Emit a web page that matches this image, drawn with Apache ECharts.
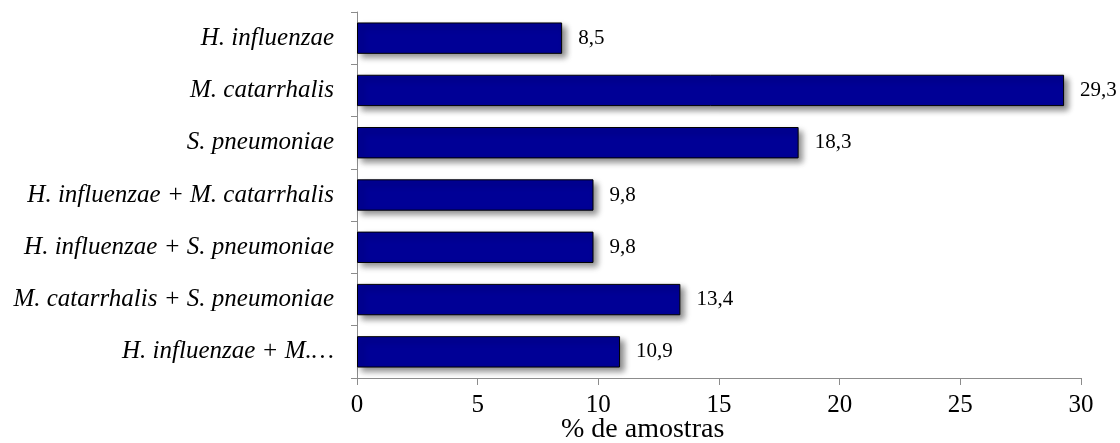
<!DOCTYPE html>
<html>
<head>
<meta charset="utf-8">
<script src="https://cdn.jsdelivr.net/npm/echarts@6/dist/echarts.min.js"></script>
<style>
  html, body { margin: 0; padding: 0; background: #fff; }
  #chart { width: 1120px; height: 443px; }
</style>
</head>
<body>
<div id="chart"></div>
<script>
// horizontal bars, % de amostras per bacteria / combination

const categories = [
  'H. influenzae',
  'M. catarrhalis',
  'S. pneumoniae',
  'H. influenzae + M. catarrhalis',
  'H. influenzae + S. pneumoniae',
  'M. catarrhalis + S. pneumoniae',
  'H. influenzae + M.…',
];
const values = [8.5, 29.3, 18.3, 9.8, 9.8, 13.4, 10.9];
const xTicks = { min: 0, max: 30, interval: 5 };

const FONT = 'Liberation Serif';
const AXIS_GREY = '#8c8c8c';

const c = echarts.init(document.getElementById('chart'), null, { renderer: 'canvas' });

c.setOption({
  animation: false,
  textStyle: { fontFamily: FONT, color: '#000' },
  grid: { left: 357, right: 39, top: 12, bottom: 65, containLabel: false },
  title: {
    text: '% de amostras',
    left: 556, top: 411,
    textStyle: { fontFamily: FONT, fontSize: 28, fontWeight: 'normal', color: '#000' },
  },
  xAxis: {
    type: 'value',
    ...xTicks,
    axisLine:  { show: true, lineStyle: { color: AXIS_GREY, width: 1 } },
    axisTick:  { show: true, length: 7, lineStyle: { color: AXIS_GREY } },
    splitLine: { show: false },
    axisLabel: { color: '#000', fontFamily: FONT, fontSize: 25, margin: 15 },
  },
  yAxis: {
    type: 'category',
    inverse: true,
    data: categories,
    axisLine:  { show: true, lineStyle: { color: AXIS_GREY, width: 1 } },
    axisTick:  { show: true, length: 6, lineStyle: { color: AXIS_GREY } },
    axisLabel: { color: '#000', fontFamily: FONT, fontStyle: 'italic', fontSize: 25, margin: 23 },
  },
  series: [{
    type: 'bar',
    data: values,
    barCategoryGap: '40%',
    itemStyle: {
      color: '#000096',
      borderColor: '#000',
      borderWidth: 1,
      shadowColor: 'rgba(0,0,0,0.45)',
      shadowBlur: 6,
      shadowOffsetX: 4,
      shadowOffsetY: 4,
    },
    label: {
      show: true,
      position: 'right',
      distance: 16,
      color: '#000',
      fontFamily: FONT,
      fontSize: 21,
      formatter: p => String(p.value).replace('.', ','),
    },
  }],
});
</script>
</body>
</html>
